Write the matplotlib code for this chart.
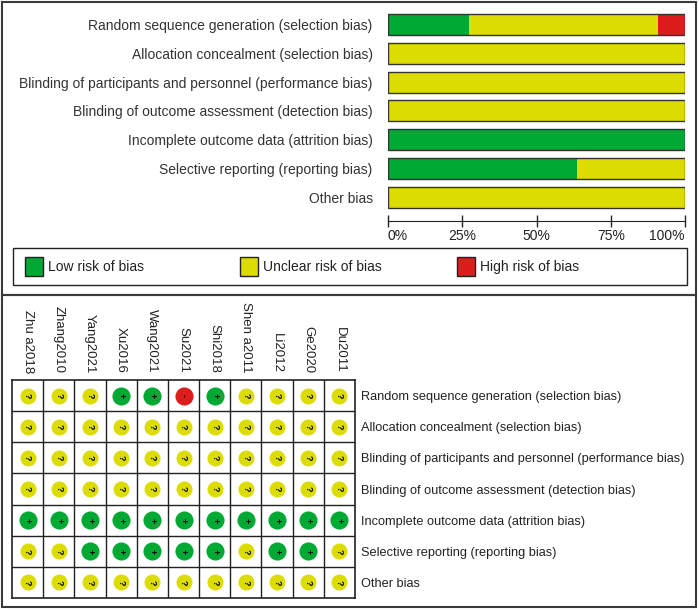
import matplotlib
matplotlib.use("Agg")
import matplotlib.pyplot as plt
from matplotlib.patches import Rectangle
import numpy as np

plt.rcParams['font.family'] = ['Liberation Sans', 'DejaVu Sans']

W, H = 699, 610

domains = [
    "Random sequence generation (selection bias)",
    "Allocation concealment (selection bias)",
    "Blinding of participants and personnel (performance bias)",
    "Blinding of outcome assessment (detection bias)",
    "Incomplete outcome data (attrition bias)",
    "Selective reporting (reporting bias)",
    "Other bias",
]
studies = ["Zhu a2018", "Zhang2010", "Yang2021", "Xu2016", "Wang2021", "Su2021",
           "Shi2018", "Shen a2011", "Li2012", "Ge2020", "Du2011"]

# one row per domain, one entry per study: + low, ? unclear, - high
random_seq = ["?", "?", "?", "+", "+", "-", "+", "?", "?", "?", "?"]
allocation = ["?"] * 11
blind_part = ["?"] * 11
blind_outc = ["?"] * 11
incomplete = ["+"] * 11
selective = ["?", "?", "+", "+", "+", "+", "+", "?", "+", "+", "?"]
other_bias = ["?"] * 11
judgements = [random_seq, allocation, blind_part, blind_outc, incomplete, selective, other_bias]

levels = ["+", "?", "-"]
level_names = ["Low risk of bias", "Unclear risk of bias", "High risk of bias"]
colors = {"+": "#00a933", "?": "#dcdc00", "-": "#dd1c1c"}
frame_col = "#3a3a3a"


def fig_rect(x0, y0, x1, y1):
    # pixel box (top-left origin) -> figure fraction [left, bottom, width, height]
    return [x0 / W, 1 - y1 / H, (x1 - x0) / W, (y1 - y0) / H]


fig = plt.figure(figsize=(W / 100, H / 100), dpi=100)

# background layer for frames and legend
bg = fig.add_axes([0, 0, 1, 1])
bg.set_xlim(0, W)
bg.set_ylim(H, 0)
bg.axis("off")
bg.add_patch(Rectangle((2, 1.5), 694, 293.5, fill=False, ec=frame_col, lw=1.5))
bg.add_patch(Rectangle((2, 295), 694, 312, fill=False, ec=frame_col, lw=1.5))

# legend
bg.add_patch(Rectangle((13, 248), 674, 37, fill=False, ec="#222222", lw=1))
for i, lv in enumerate(levels):
    px = [25, 240, 457][i]
    bg.add_patch(Rectangle((px, 257), 18, 19, fc=colors[lv], ec="#222222", lw=1))
    bg.text(px + 23, 267, level_names[i], va="center", ha="left", fontsize=10, color="#222222")

# ---- summary bar chart ----
ax = fig.add_axes(fig_rect(388, 10.2, 685, 211.4))
n = len(studies)
y = np.arange(len(domains))
left = np.zeros(len(domains))
for lv in levels:
    pct = np.array([row.count(lv) / n * 100 for row in judgements])
    ax.barh(y, pct, left=left, height=0.73, color=colors[lv], lw=0)
    left += pct
ax.barh(y, np.full(len(domains), 100), height=0.73, fill=False, ec="#333333", lw=1)
ax.set_xlim(0, 100)
ax.set_ylim(len(domains) - 0.5, -0.5)
for s in ["left", "top", "right"]:
    ax.spines[s].set_visible(False)
ax.spines["bottom"].set_position(("outward", 7))
ax.spines["bottom"].set_color("#222222")
ax.patch.set_alpha(0)

ax.set_yticks(y)
ax.set_yticklabels(domains, fontsize=10, color="#333333")
ax.tick_params(axis="y", length=0, pad=11)
ax.set_xticks([0, 25, 50, 75, 100])
ax.set_xticklabels(["0%", "25%", "50%", "75%", "100%"], fontsize=10, color="#222222")
ax.tick_params(axis="x", direction="inout", length=8, width=1, pad=2, color="#222222")
xlabs = ax.get_xticklabels()
xlabs[0].set_horizontalalignment("left")
xlabs[-1].set_horizontalalignment("right")

# ---- traffic light grid ----
gx = fig.add_axes(fig_rect(12, 380, 355, 598))
gx.set_xlim(-0.5, n - 0.5)
gx.set_ylim(len(domains) - 0.5, -0.5)
for k in range(1, n):
    gx.axvline(k - 0.5, color="#222222", lw=1)
for k in range(1, len(domains)):
    gx.axhline(k - 0.5, color="#222222", lw=1)
for s in gx.spines.values():
    s.set_color("#222222")
    s.set_linewidth(1.2)

for r, row in enumerate(judgements):
    for c, lv in enumerate(row):
        size = 132 if lv == "?" else 170
        gx.scatter(c, r, s=size, color=colors[lv], lw=0, zorder=3)
        gx.text(c, r, lv, rotation=270, ha="center", va="center", fontsize=6.5,
                fontweight="bold", color="black", zorder=4)

gx.xaxis.tick_top()
gx.set_xticks(range(n))
gx.set_xticklabels(studies, rotation=270, fontsize=9.5, color="#222222")
gx.tick_params(axis="x", length=0, pad=5)
gx.yaxis.tick_right()
gx.set_yticks(range(len(domains)))
gx.set_yticklabels(domains, fontsize=9.2, color="#222222")
gx.tick_params(axis="y", length=0, pad=4)

fig.savefig("out.png", dpi=100)
